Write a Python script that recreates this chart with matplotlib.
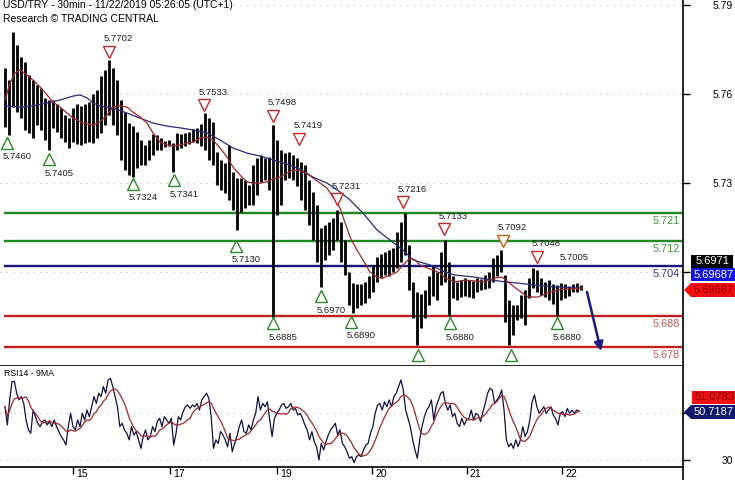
import numpy as np
import pandas as pd
import matplotlib
matplotlib.use("Agg")
import matplotlib.pyplot as plt
from matplotlib.patches import Polygon
from matplotlib.lines import Line2D
import matplotlib.transforms as mtransforms

plt.rcParams['font.family'] = ['Liberation Sans', 'DejaVu Sans']

# ---------------- data ----------------
title_text = "USD/TRY - 30min - 11/22/2019 05:26:05 (UTC+1)"
subtitle_text = "Research \u00a9 TRADING CENTRAL"

# price bars (one drawn bar per hour of 30-min bars), high / low
bar_high = [5.7689, 5.7648, 5.7810, 5.7766, 5.7726, 5.7709, 5.7665, 5.7648, 5.7631, 5.7621,
            5.7588, 5.7581, 5.7581, 5.7567, 5.7554, 5.7530, 5.7520, 5.7554, 5.7567, 5.7561,
            5.7567, 5.7574, 5.7601, 5.7615, 5.7662, 5.7682, 5.7716, 5.7689, 5.7648, 5.7581,
            5.7540, 5.7503, 5.7493, 5.7473, 5.7446, 5.7429, 5.7446, 5.7466, 5.7463, 5.7453,
            5.7443, 5.7446, 5.7436, 5.7470, 5.7466, 5.7470, 5.7473, 5.7483, 5.7487, 5.7500,
            5.7537, 5.7520, 5.7507, 5.7406, 5.7379, 5.7369, 5.7429, 5.7338, 5.7318, 5.7318,
            5.7311, 5.7294, 5.7362, 5.7385, 5.7396, 5.7385, 5.7389, 5.7497, 5.7446, 5.7412,
            5.7402, 5.7406, 5.7396, 5.7385, 5.7372, 5.7362, 5.7311, 5.7271, 5.7227, 5.7149,
            5.7160, 5.7170, 5.7183, 5.7210, 5.7170, 5.7109, 5.7001, 5.6964, 5.6961, 5.6961,
            5.6968, 5.6988, 5.7025, 5.7052, 5.7062, 5.7069, 5.7075, 5.7082, 5.7136, 5.7170,
            5.7200, 5.7092, 5.6968, 5.6934, 5.6927, 5.6941, 5.6988, 5.7021, 5.7001, 5.7069,
            5.7109, 5.7035, 5.6988, 5.6968, 5.6974, 5.6981, 5.6974, 5.6971, 5.6981, 5.6978,
            5.6991, 5.7001, 5.7048, 5.7059, 5.7075, 5.6991, 5.6907, 5.6890, 5.6890, 5.6924,
            5.6941, 5.6981, 5.7015, 5.7008, 5.6981, 5.6968, 5.6974, 5.6961, 5.6957, 5.6964,
            5.6961, 5.6954, 5.6961, 5.6964, 5.6957]
bar_low = [5.7490, 5.7463, 5.7557, 5.7540, 5.7520, 5.7480, 5.7470, 5.7453, 5.7497, 5.7480,
           5.7446, 5.7412, 5.7487, 5.7473, 5.7453, 5.7439, 5.7419, 5.7439, 5.7433, 5.7429,
           5.7436, 5.7439, 5.7436, 5.7453, 5.7470, 5.7497, 5.7530, 5.7497, 5.7463, 5.7379,
           5.7345, 5.7328, 5.7321, 5.7352, 5.7362, 5.7362, 5.7379, 5.7396, 5.7412, 5.7412,
           5.7422, 5.7426, 5.7338, 5.7412, 5.7419, 5.7426, 5.7433, 5.7439, 5.7436, 5.7426,
           5.7412, 5.7379, 5.7362, 5.7294, 5.7278, 5.7268, 5.7244, 5.7210, 5.7143, 5.7203,
           5.7217, 5.7227, 5.7227, 5.7261, 5.7305, 5.7311, 5.7278, 5.6850, 5.7193, 5.7227,
           5.7311, 5.7318, 5.7311, 5.7291, 5.7244, 5.7210, 5.7160, 5.7109, 5.7035, 5.6951,
           5.7042, 5.7059, 5.7075, 5.7109, 5.7035, 5.6991, 5.6890, 5.6863, 5.6880, 5.6890,
           5.6897, 5.6914, 5.6934, 5.6968, 5.6981, 5.6991, 5.6988, 5.7001, 5.7015, 5.7035,
           5.7059, 5.6941, 5.6846, 5.6755, 5.6812, 5.6846, 5.6890, 5.6920, 5.6907, 5.6957,
           5.6968, 5.6853, 5.6914, 5.6907, 5.6917, 5.6920, 5.6917, 5.6914, 5.6934, 5.6941,
           5.6944, 5.6947, 5.6968, 5.6988, 5.7001, 5.6833, 5.6755, 5.6789, 5.6840, 5.6846,
           5.6823, 5.6914, 5.6947, 5.6934, 5.6924, 5.6917, 5.6907, 5.6893, 5.6853, 5.6907,
           5.6914, 5.6920, 5.6934, 5.6934, 5.6941]
bars_per_drawn_bar = 2

# moving averages on price (time in 30-min bar index)
red_ma_t = [0, 2.5, 5, 7.5, 11, 14, 17.5, 21, 24, 27.5, 31, 34, 39, 44, 47.5, 51, 54, 57.5, 61, 64,
            67.5, 71, 74, 77.5, 81, 84, 87.5, 91, 94, 97.5, 101, 104, 107.5, 111, 114, 117.5, 121,
            124, 127.5, 131, 134, 137.5, 141, 144, 147.5, 151, 154, 157.5, 161, 164, 167.5, 169,
            172.5, 176, 179, 182.5, 186, 189, 192.5, 196, 199, 202.5, 205, 207.5, 211, 214, 217.5,
            220, 225, 230, 235, 240, 245, 248.5, 251.5, 256.5, 261.5, 266.5, 271.5, 276.5, 281.5, 288.5]
red_ma_v = [5.7581, 5.7638, 5.7672, 5.7682, 5.7665, 5.7648, 5.7625, 5.7598, 5.7574, 5.7557, 5.7537,
            5.7520, 5.7503, 5.7497, 5.7507, 5.7530, 5.7557, 5.7561, 5.7557, 5.7540, 5.7524, 5.7503,
            5.7470, 5.7439, 5.7429, 5.7426, 5.7429, 5.7436, 5.7439, 5.7453, 5.7456, 5.7446, 5.7419,
            5.7389, 5.7355, 5.7328, 5.7305, 5.7301, 5.7301, 5.7305, 5.7315, 5.7321, 5.7335, 5.7345,
            5.7342, 5.7332, 5.7318, 5.7301, 5.7284, 5.7254, 5.7217, 5.7187, 5.7119, 5.7075, 5.7042,
            5.7001, 5.6984, 5.6981, 5.6991, 5.7001, 5.7025, 5.7048, 5.7042, 5.7025, 5.7015, 5.7008,
            5.6998, 5.6981, 5.6968, 5.6974, 5.6971, 5.6968, 5.6981, 5.6984, 5.6968, 5.6941, 5.6917,
            5.6917, 5.6931, 5.6941, 5.6944, 5.6947]
blue_ma_t = [0, 7.5, 14, 21, 27.5, 34, 37.5, 41, 44, 47.5, 54, 61, 67.5, 74, 81, 87.5, 94, 101,
             107.5, 114, 121, 127.5, 134, 141, 147.5, 154, 161, 167.5, 172.5, 179, 186, 192.5, 199,
             204, 212.5, 220, 225, 235, 243.5, 250, 256.5, 265, 275, 288.5]
blue_ma_v = [5.7561, 5.7557, 5.7561, 5.7571, 5.7581, 5.7594, 5.7598, 5.7588, 5.7571, 5.7561,
             5.7554, 5.7537, 5.7520, 5.7503, 5.7493, 5.7487, 5.7480, 5.7470, 5.7446, 5.7419,
             5.7402, 5.7392, 5.7379, 5.7365, 5.7348, 5.7321, 5.7301, 5.7271, 5.7244, 5.7200,
             5.7143, 5.7109, 5.7075, 5.7042, 5.7025, 5.7001, 5.6991, 5.6984, 5.6974, 5.6968,
             5.6964, 5.6957, 5.6951, 5.6947]

# support / resistance levels
level_values = [5.7201, 5.7107, 5.7021, 5.6854, 5.6750]
level_labels = ["5.721", "5.712", "5.704", "5.688", "5.678"]
level_colors = ["#1f8a1f", "#1f8a1f", "#14167a", "#c41f1f", "#c41f1f"]
level_text_colors = ["#3d963d", "#3d963d", "#35358f", "#c85a5a", "#c85a5a"]

# swing-low markers (time, marker price, label)
low_mark_t = [1, 22, 64, 84.5, 115.5, 134, 158, 173, 206.5, 222.5, 253, 276]
low_mark_p = [5.7436, 5.7382, 5.7298, 5.7311, 5.7089, 5.6829, 5.6920, 5.6833, 5.6721, 5.6829, 5.6721, 5.6829]
low_mark_txt = ["5.7460", "5.7405", "5.7324", "5.7341", "5.7130", "5.6885", "5.6970", "5.6890", "",
                "5.6880", "", "5.6880"]
# swing-high markers
high_mark_t = [52, 99.5, 134, 147, 166, 199, 219.5, 249, 266, 280]
high_mark_p = [5.7743, 5.7564, 5.7527, 5.7450, 5.7247, 5.7237, 5.7146, 5.7106, 5.7052, 5.7008]
high_mark_txt = ["5.7702", "5.7533", "5.7498", "5.7419", "5.7231", "5.7216", "5.7133", "5.7092",
                 "5.7048", "5.7005"]
high_mark_show = [True, True, True, True, True, True, True, True, True, False]

# projection arrow
arrow_start = (291, 5.6934)
arrow_end = (298, 5.6735)

# price axis ticks (5.70 label is hidden behind the value boxes)
price_ticks = [5.70, 5.73, 5.76, 5.79]
price_tick_labels = ["", "5.73", "5.76", "5.79"]

# day labels on time axis
day_ticks = [34, 82.5, 136, 183.5, 231, 278.5]
day_labels = ["15", "17", "19", "20", "21", "22"]

# last values shown in boxes
last_price = "5.6971"
last_ma1 = "5.69687"
last_ma2 = "5.69687"
rsi_ma_last = "51.0783"
rsi_last = "50.7187"

# RSI(14)
rsi_values = [52.5, 44.8, 55.4, 63.1, 63.1, 58.2, 55.4, 56.8, 53.9, 46.9, 42.7, 41.3, 51.1, 48.3,
              45.5, 44.1, 46.2, 46.9, 44.8, 46.2, 44.1, 46.9, 44.1, 42.0, 39.9, 38.5, 36.3, 44.1,
              49.7, 44.1, 42.7, 46.9, 44.1, 49.7, 46.9, 51.1, 48.3, 52.5, 56.8, 53.9, 58.2, 56.8,
              61.0, 58.2, 63.8, 64.5, 61.0, 56.8, 52.5, 44.1, 45.5, 42.7, 41.3, 38.5, 44.1, 40.6,
              42.0, 38.5, 34.9, 39.9, 42.7, 38.5, 39.9, 44.1, 42.0, 46.2, 47.6, 44.1, 48.3, 46.9,
              45.5, 47.6, 36.3, 41.3, 48.3, 46.9, 50.4, 52.5, 53.2, 51.8, 53.2, 52.5, 53.9, 51.1,
              55.4, 56.8, 58.2, 56.1, 48.3, 34.9, 38.5, 37.0, 42.0, 40.6, 38.5, 35.6, 41.3, 33.5,
              37.0, 39.9, 44.1, 46.9, 42.0, 41.3, 44.8, 42.7, 46.9, 49.7, 56.8, 51.1, 53.9, 52.5,
              54.6, 46.9, 39.9, 47.6, 49.7, 51.1, 53.2, 53.9, 51.8, 52.5, 53.9, 51.1, 51.8, 49.0,
              49.7, 47.6, 44.8, 42.7, 38.5, 42.0, 37.7, 35.6, 30.0, 37.0, 34.2, 37.7, 40.6, 42.7,
              44.1, 45.5, 40.6, 42.7, 37.0, 35.6, 33.5, 30.7, 31.4, 28.9, 31.4, 32.1, 31.4, 34.2,
              36.3, 37.0, 41.3, 44.1, 49.7, 53.2, 53.9, 51.1, 54.6, 52.5, 55.4, 52.5, 56.8, 58.2,
              61.0, 63.8, 59.6, 51.1, 47.6, 44.1, 38.5, 34.2, 30.7, 38.5, 44.1, 48.3, 51.1, 52.5,
              55.4, 46.9, 52.5, 55.4, 58.2, 58.9, 53.9, 51.1, 53.2, 48.3, 49.7, 45.5, 44.1, 47.6,
              44.8, 46.9, 47.6, 51.1, 46.9, 49.7, 49.0, 46.2, 50.4, 53.9, 58.2, 60.3, 59.6, 53.9,
              55.4, 56.8, 59.6, 51.1, 38.5, 35.6, 37.0, 34.9, 38.5, 35.6, 38.5, 44.1, 39.9, 42.0,
              46.9, 54.6, 57.5, 52.5, 49.7, 51.1, 52.5, 49.7, 51.1, 52.5, 49.0, 47.6, 44.8, 49.7,
              50.4, 48.3, 51.8, 49.7, 51.1, 49.7, 51.1, 50.7]
rsi_span = (0, 287)
rsi_ma_period = 8
rsi_ticks = [30, 50]
rsi_tick_labels = ["30", ""]

# ---------------- figure ----------------
W, H = 735, 480
fig = plt.figure(figsize=(W / 100, H / 100), dpi=100)

def fx(px):
    return px / W

def fy(py):
    return 1 - py / H

axis_right = 683
main_bottom = 366
rsi_bottom = 467

ax = fig.add_axes([0, fy(main_bottom), fx(axis_right), main_bottom / H])
ax2 = fig.add_axes([0, fy(rsi_bottom), fx(axis_right), (rsi_bottom - main_bottom) / H])

xmin, xmax = -2.5, 339
for a in (ax, ax2):
    a.set_xlim(xmin, xmax)
    a.set_facecolor("white")
    for s in ("top", "left"):
        a.spines[s].set_visible(False)
    a.spines["right"].set_linewidth(1.2)
    a.spines["bottom"].set_linewidth(1.2)
    a.yaxis.tick_right()

ax.set_ylim(5.66845, 5.79179)
ax2.set_ylim(27.04, 69.7)

# grid dotted lines
for p in price_ticks:
    ax.axhline(p, color="#b8b8b8", lw=0.8, ls=(0, (1, 5)), zorder=0)
for r in rsi_ticks:
    ax2.axhline(r, color="#b8b8b8", lw=0.8, ls=(0, (1, 5)), zorder=0)

# levels
for v, lab, c, tc in zip(level_values, level_labels, level_colors, level_text_colors):
    ax.hlines(v, -0.5, xmax, color=c, lw=1.7, zorder=2)
    off = mtransforms.offset_copy(ax.transData, fig=fig, x=0, y=-8, units="dots")
    ax.text(337.5, v, lab, color=tc, fontsize=7.8, ha="right", va="center",
            transform=off, zorder=5)

# bars
bar_t = np.arange(len(bar_high)) * bars_per_drawn_bar
ax.vlines(bar_t, bar_low, bar_high, color="black", lw=2.0, zorder=3)

# moving averages
ax.plot(blue_ma_t, blue_ma_v, color="#2a2a80", lw=0.9, zorder=4)
ax.plot(red_ma_t, red_ma_v, color="#a02828", lw=0.9, zorder=4)

# markers
for t, p, s in zip(low_mark_t, low_mark_p, low_mark_txt):
    ax.plot(t, p, marker="^", ms=8, mfc="white", mec="#2a8a2a", mew=1.0, zorder=6)
    if s:
        off = mtransforms.offset_copy(ax.transData, fig=fig, x=10, y=-14, units="dots")
        ax.text(t, p, s, transform=off, fontsize=6.8, ha="center", va="center",
                color="#202020", zorder=6)
for t, p, s, show in zip(high_mark_t, high_mark_p, high_mark_txt, high_mark_show):
    if show:
        mc = "#c85a1a" if s == "5.7092" else "#c42a2a"
        ax.plot(t, p, marker="v", ms=8, mfc="white", mec=mc, mew=1.0, zorder=6)
    off = mtransforms.offset_copy(ax.transData, fig=fig, x=9, y=13, units="dots")
    ax.text(t, p, s, transform=off, fontsize=6.8, ha="center", va="center",
            color="#202020", zorder=6)

# arrow
ax.annotate("", xy=arrow_end, xytext=arrow_start,
            arrowprops=dict(arrowstyle="-|>", color="#141c7e", lw=1.8,
                            mutation_scale=13, shrinkA=0, shrinkB=0), zorder=7)

# price axis ticks
ax.set_xticks([])
ax.set_yticks(price_ticks)
ax.set_yticklabels(price_tick_labels)
ax.tick_params(axis="y", direction="out", length=5, width=1, pad=31, labelsize=7.5,
               colors="black")
for lbl in ax.get_yticklabels():
    lbl.set_ha("right")

# title
fig.text(fx(3), fy(5), title_text, fontsize=7.5, va="center", ha="left")
fig.text(fx(3), fy(19), subtitle_text, fontsize=7.5, va="center", ha="left")

# RSI panel
rsi_t = np.linspace(rsi_span[0], rsi_span[1], len(rsi_values))
rsi_ma = pd.Series(rsi_values).rolling(rsi_ma_period, min_periods=1).mean()
ax2.plot(rsi_t, rsi_values, color="#101040", lw=0.9, zorder=3)
ax2.plot(rsi_t, rsi_ma, color="#a02828", lw=0.9, zorder=4)
ax2.set_yticks(rsi_ticks)
ax2.set_yticklabels(rsi_tick_labels)
ax2.tick_params(axis="y", direction="out", length=5, width=1, pad=31, labelsize=7.5)
for lbl in ax2.get_yticklabels():
    lbl.set_ha("right")
ax2.set_xticks(day_ticks)
ax2.set_xticklabels([""] * len(day_ticks))
ax2.tick_params(axis="x", direction="out", length=5, width=1)
trans = mtransforms.blended_transform_factory(ax2.transData, ax2.transAxes)
trans = trans + mtransforms.ScaledTranslation(3 / 100, -7 / 100, fig.dpi_scale_trans)
for t, lab in zip(day_ticks, day_labels):
    ax2.text(t, 0, lab, transform=trans, fontsize=7.6, ha="left", va="center")
fig.text(fx(4), fy(374), "RSI14 - 9MA", fontsize=6.3, ha="left", va="center")

# right spine continuation to bottom
fig.add_artist(Line2D([fx(axis_right), fx(axis_right)], [fy(rsi_bottom), 0],
                      transform=fig.transFigure, color="black", lw=1.2))

# value boxes on the right
def box(x0, y0, x1, y1, fc, text, tc, arrow=False):
    if arrow:
        pts = [(x0 - 7, (y0 + y1) / 2), (x0, y0), (x1, y0), (x1, y1), (x0, y1)]
    else:
        pts = [(x0, y0), (x1, y0), (x1, y1), (x0, y1)]
    poly = Polygon([(fx(a), fy(b)) for a, b in pts], closed=True, transform=fig.transFigure,
                   facecolor=fc, edgecolor="none", zorder=20)
    fig.add_artist(poly)
    fig.text(fx((x0 + x1) / 2 + 1), fy((y0 + y1) / 2), text, color=tc, fontsize=8,
             ha="center", va="center", zorder=21)

box(691, 255, 733, 268, "black", last_price, "white")
box(691, 268, 735, 281, "#1414e6", last_ma1, "white")
box(691, 283, 735, 297, "#ee1010", last_ma2, "#8a0000", arrow=True)
box(692, 391, 735, 404, "#ee1010", rsi_ma_last, "#8a0000")
box(691, 405, 735, 419, "#10186e", rsi_last, "white", arrow=True)

fig.savefig("out.png", dpi=100, facecolor="white")
